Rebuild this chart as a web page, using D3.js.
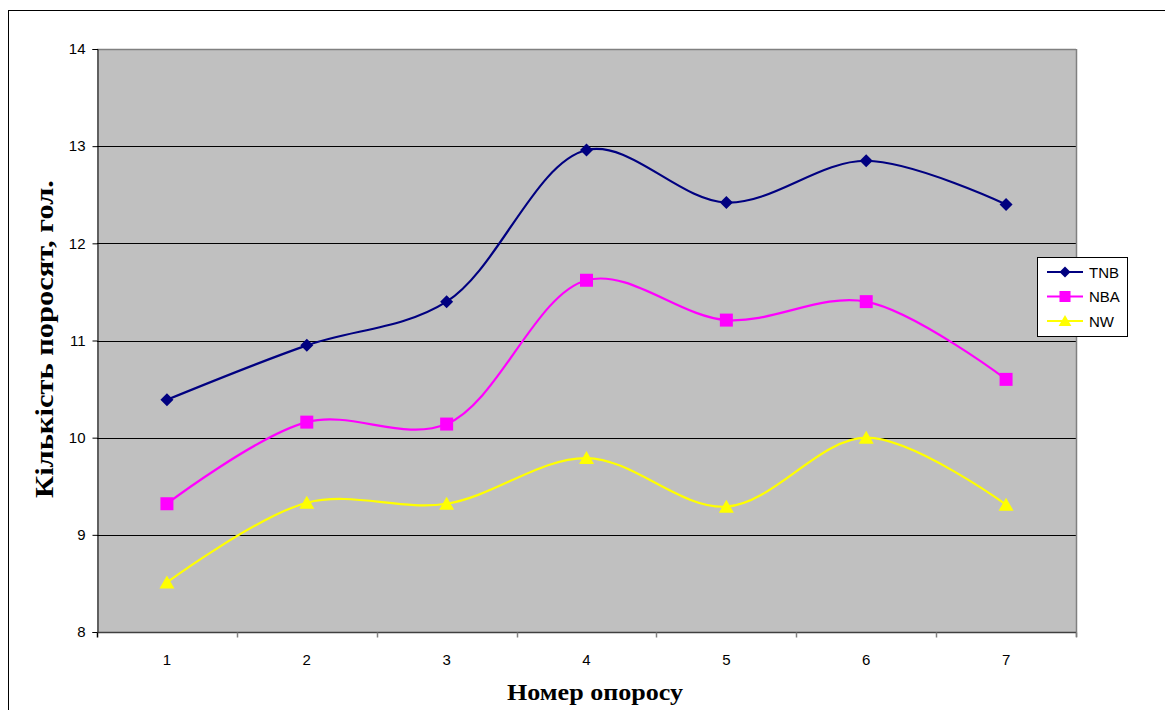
<!DOCTYPE html>
<html><head><meta charset="utf-8">
<script src="https://cdn.jsdelivr.net/npm/d3@7"></script>
<style>body{margin:0;background:#fff}svg{display:block}</style>
</head><body>
<svg id="c" width="1165" height="710"></svg>
<script>
const categories = ["1","2","3","4","5","6","7"];
const tnb = [10.39, 10.95, 11.40, 12.96, 12.42, 12.85, 12.40];
const nba = [9.32, 10.16, 10.14, 11.62, 11.21, 11.40, 10.60];
const nw  = [8.51, 9.33, 9.32, 9.79, 9.29, 10.00, 9.31];
const yTicks = [8, 9, 10, 11, 12, 13, 14];
const seriesNames = ["TNB", "NBA", "NW"];

const series = [
  {name: seriesNames[0], values: tnb, color: "#000080", marker: "diamond"},
  {name: seriesNames[1], values: nba, color: "#FF00FF", marker: "square"},
  {name: seriesNames[2], values: nw,  color: "#FFFF00", marker: "triangle"}
];

const svg = d3.select("#c");
const L = 97, R = 1076, T = 49, B = 632;

svg.append("rect").attr("x", 8.5).attr("y", 10.5).attr("width", 1170).attr("height", 710)
  .attr("fill", "none").attr("stroke", "#000").attr("stroke-width", 1);

const x = d3.scaleBand().domain(categories).range([L, R]).padding(0);
const y = d3.scaleLinear().domain([8, 14]).range([B, T]);

svg.append("rect").attr("x", L).attr("y", T).attr("width", R - L).attr("height", B - T).attr("fill", "#C0C0C0");

// gridlines
svg.append("g").selectAll("line").data(yTicks.filter(v => v > 8 && v < 14)).join("line")
  .attr("x1", L).attr("x2", R).attr("y1", d => Math.round(y(d)) + 0.5).attr("y2", d => Math.round(y(d)) + 0.5)
  .attr("stroke", "#000").attr("stroke-width", 1);
// top and right border
svg.append("line").attr("x1", L).attr("x2", R).attr("y1", T + 0.5).attr("y2", T + 0.5).attr("stroke", "#808080").attr("stroke-width", 1.5);
svg.append("line").attr("x1", R + 0.5).attr("x2", R + 0.5).attr("y1", T).attr("y2", B + 5).attr("stroke", "#808080").attr("stroke-width", 1.5);

// y axis
const yAxis = d3.axisLeft(y).tickValues(yTicks).tickSize(5).tickPadding(7).tickFormat(d3.format("d"));
const gy = svg.append("g").attr("transform", `translate(${L + 0.5},0)`).call(yAxis);
gy.select(".domain").attr("stroke", "#000");
gy.selectAll(".tick line").attr("stroke", "#000");
gy.selectAll("text").attr("font-family", "Liberation Sans, Arial, sans-serif").attr("font-size", 15).attr("fill", "#000");

// x axis
const gx = svg.append("g").attr("transform", `translate(0,${B + 0.5})`);
gx.append("line").attr("x1", L).attr("x2", R).attr("stroke", "#404040").attr("stroke-width", 1.5);
const bounds = categories.map(c => x(c)).concat([R]);
gx.selectAll(".tk").data(bounds).join("line").attr("class", "tk")
  .attr("x1", d => Math.round(d) + 0.5).attr("x2", d => Math.round(d) + 0.5).attr("y1", 0).attr("y2", 5)
  .attr("stroke", (d, i) => i === 0 ? "#000" : "#808080").attr("stroke-width", 1.5);
gx.selectAll("text").data(categories).join("text")
  .attr("x", d => x(d) + x.bandwidth() / 2).attr("y", 32).attr("text-anchor", "middle")
  .attr("font-family", "Liberation Sans, Arial, sans-serif").attr("font-size", 15).text(d => d);

// titles
svg.append("text").attr("transform", "translate(53,339) rotate(-90)").attr("text-anchor", "middle")
  .attr("font-family", "Liberation Serif, Times New Roman, serif").attr("font-weight", "bold").attr("font-size", 26)
  .attr("textLength", 318).attr("lengthAdjust", "spacingAndGlyphs")
  .text("Кількість поросят, гол.");
svg.append("text").attr("x", 595).attr("y", 700).attr("text-anchor", "middle")
  .attr("font-family", "Liberation Serif, Times New Roman, serif").attr("font-weight", "bold").attr("font-size", 24)
  .attr("textLength", 176).attr("lengthAdjust", "spacingAndGlyphs")
  .text("Номер опоросу");

const line = d3.line().x((d, i) => x(categories[i]) + x.bandwidth() / 2).y(d => y(d)).curve(d3.curveCatmullRom.alpha(0.5));

function markerPath(type) {
  if (type === "diamond") return "M0,-6.5L6.5,0L0,6.5L-6.5,0Z";
  if (type === "square") return "M-6.5,-6.5H6.5V6.5H-6.5Z";
  return "M0,-7L7.5,6L-7.5,6Z";
}

series.forEach(s => {
  svg.append("path").attr("d", line(s.values)).attr("fill", "none").attr("stroke", s.color).attr("stroke-width", 2.2);
  svg.append("g").selectAll("path").data(s.values).join("path")
    .attr("transform", (d, i) => `translate(${x(categories[i]) + x.bandwidth() / 2},${y(d)})`)
    .attr("d", markerPath(s.marker)).attr("fill", s.color);
});

// legend
const lg = svg.append("g");
lg.append("rect").attr("x", 1037.5).attr("y", 257.5).attr("width", 90).attr("height", 79).attr("fill", "#fff").attr("stroke", "#000");
series.forEach((s, i) => {
  const yy = 272 + i * 24.5;
  lg.append("line").attr("x1", 1047).attr("x2", 1083).attr("y1", yy).attr("y2", yy).attr("stroke", s.color).attr("stroke-width", 2.2);
  lg.append("path").attr("d", markerPath(s.marker)).attr("fill", s.color)
    .attr("transform", `translate(1065,${yy}) scale(0.85)`);
  lg.append("text").attr("x", 1089).attr("y", yy + 5.5).attr("font-family", "Liberation Sans, Arial, sans-serif").attr("font-size", 15).text(s.name);
});
</script>
</body></html>
